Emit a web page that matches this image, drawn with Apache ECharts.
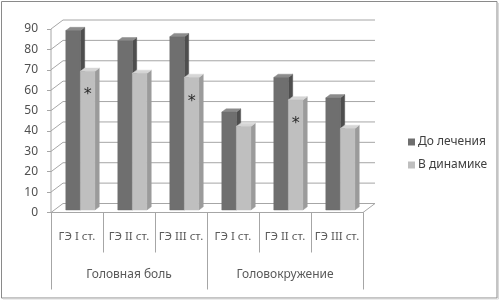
<!DOCTYPE html>
<html><head><meta charset="utf-8">
<script src="https://cdn.jsdelivr.net/npm/echarts@6/dist/echarts.min.js"></script>
<style>html,body{margin:0;padding:0;background:#fff}#c{width:501px;height:300px}</style>
</head><body><div id="c"></div>
<script>
var categories = ['ГЭ I ст.', 'ГЭ II ст.', 'ГЭ III ст.', 'ГЭ I ст.', 'ГЭ II ст.', 'ГЭ III ст.'];
var groups = ['Головная боль', 'Головокружение'];
var seriesNames = ['До лечения', 'В динамике'];
var beforeVals = [88, 83, 85, 48, 65, 55];
var dynamicVals = [68, 67, 65, 41, 54, 40];
var dynamicMarks = ['*', '', '*', '', '*', ''];
var yTicks = [0, 10, 20, 30, 40, 50, 60, 70, 80, 90];

var DX = 12, DY = -9;          // depth of the 3D box
var FRONT = 0.28, DEPTH = 0.36; // bar position in depth
var FONT = 'Noto Sans';
var palettes = [
  {front: '#6f6f6f', side: '#4e4e4e', top: '#8c8c8c'},
  {front: '#bfbfbf', side: '#9b9b9b', top: '#d6d6d6'}
];

function barRender(s) {
  return function (params, api) {
    var i = api.value(0), v = api.value(1);
    var mark = s === 1 ? dynamicMarks[params.dataIndex] : '';
    var base = api.coord([i, 0]);
    var top = api.coord([i, v]);
    var bw = api.size([1, 0])[0] * 0.28;
    var fx = DX * FRONT, fy = DY * FRONT;
    var bx = DX * DEPTH, by = DY * DEPTH;
    var xl = base[0] + (s === 0 ? -bw : 0) + fx;
    var xr = xl + bw;
    var yt = top[1] + fy, yb = base[1] + fy;
    var c = palettes[s];
    var children = [
      {type: 'polygon', shape: {points: [[xr, yt], [xr, yb], [xr + bx, yb + by], [xr + bx, yt + by]]},
       style: {fill: c.side, stroke: c.side, lineWidth: 0.5}},
      {type: 'polygon', shape: {points: [[xl, yt], [xr, yt], [xr + bx, yt + by], [xl + bx, yt + by]]},
       style: {fill: c.top, stroke: c.top, lineWidth: 0.5}},
      {type: 'rect', shape: {x: xl, y: yt, width: bw, height: yb - yt},
       style: {fill: c.front, stroke: c.front, lineWidth: 0.5}}
    ];
    if (mark) {
      children.push({type: 'text', style: {
        text: mark, x: xl + bw / 2, y: yt + 24,
        textAlign: 'center', textVerticalAlign: 'middle',
        fontFamily: 'DejaVu Sans', fontSize: 16, fill: '#2a2a2a'
      }});
    }
    return {type: 'group', children: children};
  };
}

function gridRender(params, api) {
  var v = api.value(1);
  var cs = params.coordSys;
  var y = api.coord([0, v])[1];
  var x0 = cs.x, x1 = cs.x + cs.width;
  var children = [
    {type: 'polyline', shape: {points: [[x0, y], [x0 + DX, y + DY], [x1 + DX, y + DY]]},
     style: {stroke: '#a6a6a6', lineWidth: 1, fill: null}}
  ];
  if (v === 0) {
    children.push({type: 'line', shape: {x1: x1, y1: y, x2: x1 + DX, y2: y + DY},
      style: {stroke: '#a6a6a6', lineWidth: 1}});
    children.push({type: 'line', shape: {x1: x0, y1: y, x2: x0, y2: api.coord([0, 90])[1]},
      style: {stroke: '#a6a6a6', lineWidth: 1}});
  }
  return {type: 'group', children: children};
}

var chart = echarts.init(document.getElementById('c'), null, {renderer: 'canvas'});
chart.setOption({
  animation: false,
  textStyle: {fontFamily: FONT},
  graphic: [
    {type: 'rect', shape: {x: 1.5, y: 1.5, width: 495.5, height: 296.5},
     style: {fill: null, stroke: '#8a8a8a', lineWidth: 1}, z: 100},
    {type: 'polyline', shape: {points: [[498.5, 3], [498.5, 299], [3, 299]]},
     style: {fill: null, stroke: '#d9d9d9', lineWidth: 1}, z: 100}
  ],
  grid: {left: 51, right: 138, top: 29, bottom: 87.5},
  legend: {
    orient: 'vertical', left: 403, top: 131,
    itemWidth: 7, itemHeight: 7, itemGap: 11,
    icon: 'rect',
    data: seriesNames,
    textStyle: {fontFamily: FONT, fontSize: 12, color: '#404040', padding: [0, 0, 0, -2]}
  },
  xAxis: [
    {
      type: 'category', data: categories, position: 'bottom',
      axisLine: {show: true, lineStyle: {color: '#a6a6a6'}},
      axisTick: {show: true, length: 40, lineStyle: {color: '#a6a6a6'}},
      axisLabel: {margin: 18, fontFamily: FONT, fontSize: 11.5, color: '#595959', interval: 0},
      splitLine: {show: false}
    },
    {
      type: 'category', data: groups, position: 'bottom',
      axisLine: {show: false},
      axisTick: {show: true, length: 77, lineStyle: {color: '#a6a6a6'}},
      axisLabel: {margin: 56, fontFamily: FONT, fontSize: 12, color: '#595959', interval: 0},
      splitLine: {show: false}
    }
  ],
  yAxis: {
    type: 'value', min: 0, max: 90, interval: 10,
    axisLine: {show: false},
    axisTick: {show: true, length: 4, lineStyle: {color: '#a6a6a6'}},
    axisLabel: {margin: 13, fontFamily: FONT, fontSize: 12, color: '#505050'},
    splitLine: {show: false}
  },
  series: [
    {
      type: 'custom', name: '_grid', silent: true, z: 1,
      renderItem: gridRender,
      data: yTicks.map(function (t) { return [0, t]; }),
      encode: {x: 0, y: 1}
    },
    {
      type: 'custom', name: seriesNames[0], z: 2,
      renderItem: barRender(0),
      itemStyle: {color: palettes[0].front},
      data: beforeVals.map(function (v, i) { return [i, v]; }),
      encode: {x: 0, y: 1}
    },
    {
      type: 'custom', name: seriesNames[1], z: 3,
      renderItem: barRender(1),
      itemStyle: {color: palettes[1].front},
      data: dynamicVals.map(function (v, i) { return [i, v]; }),
      encode: {x: 0, y: 1}
    }
  ]
});
</script>
</body></html>
